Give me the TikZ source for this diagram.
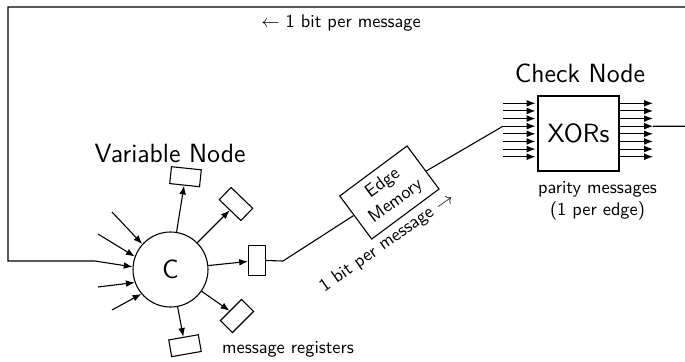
\documentclass[tikz,border=0pt]{standalone}
\usepackage{fontspec}
\renewcommand{\familydefault}{\sfdefault}
\usetikzlibrary{arrows.meta,positioning}

\tikzset{
  reg/.style={draw, minimum width=0.576cm, minimum height=0.326cm, inner sep=0pt},
  msg/.style={-{Latex[length=4.8pt,width=3.7pt]}},
}

\begin{document}
\begin{tikzpicture}[scale=0.192, line width=0.6pt]
                \useasboundingbox (0,0) rectangle (68.5,-36.1);
                % variable node
                \node [draw, circle, minimum size=1.44cm, inner sep=0pt, font=\Large] (c) at (17.05,-26.95) {C};
                \node [font=\Large] (vlabel) at (17.0,-15.3) {Variable Node};
                % message registers
                \node [reg, rotate=-6] (r1) at (18.55,-17.67) {};
                \node [reg, rotate=-44] (r2) at (23.6,-20.4) {};
                \node [reg, rotate=90] (r3) at (25.7,-26.05) {};
                \node [reg, rotate=45] (r4) at (23.7,-31.6) {};
                \node [reg, rotate=10] (r5) at (18.5,-34.57) {};
                \node (rlabel) at (28.8,-34.9) {message registers};
                \foreach \r in {r1,r2,r3,r4,r5}
                    \draw [msg] (c) -- (\r);
                % incoming messages
                \coordinate (in1) at (11.2,-21.2);
                \coordinate (in2) at (9.8,-23.4);
                \coordinate (in4) at (9.8,-28.7);
                \coordinate (in5) at (11.2,-31.0);
                \draw [msg] (in1) -- (c.138);
                \draw [msg] (in2) -- (c.160);
                \draw [msg] (in4) -- (c.200);
                \draw [msg] (in5) -- (c.220);
                % check node
                \node [draw, minimum width=1.555cm, minimum height=1.44cm, inner sep=0pt, font=\Large] (xor) at (57.85,-13.35) {XORs};
                \node [font=\Large] (clabel) at (58.0,-7.3) {Check Node};
                \node [align=center] (plabel) at (59.75,-20.1) {parity messages\\(1 per edge)};
                \foreach \i in {0,...,7} {
                    \draw [msg] (50.3,{-10.33-0.763*\i}) -- (53.55,{-10.33-0.763*\i});
                    \draw [msg] (61.9,{-10.33-0.763*\i}) -- (65.3,{-10.33-0.763*\i});
                }
                \coordinate (xin) at (50.3,-12.62);
                \coordinate (xout) at (65.3,-12.62);
                % edge memory
                \node [draw, rotate=36.6, minimum width=1.61cm, minimum height=1.03cm, inner sep=0pt, align=center] (em) at (38.94,-19.25) {Edge\\Memory};
                \node [rotate=35] (elabel) at (38.7,-24.3) {1 bit per message $\rightarrow$};
                \coordinate (bend) at (28.3,-26.1);
                \draw (r3.south) -- (bend) -- (em) -- (xin);
                % feedback
                \draw [msg] (xout) -- (69.5,-12.62) |- (0.8,-0.7) |- (9.5,-26.1) -- (c.176);
                \node (flabel) at (34.1,-2.35) {$\leftarrow$ 1 bit per message};
\end{tikzpicture}
\end{document}
